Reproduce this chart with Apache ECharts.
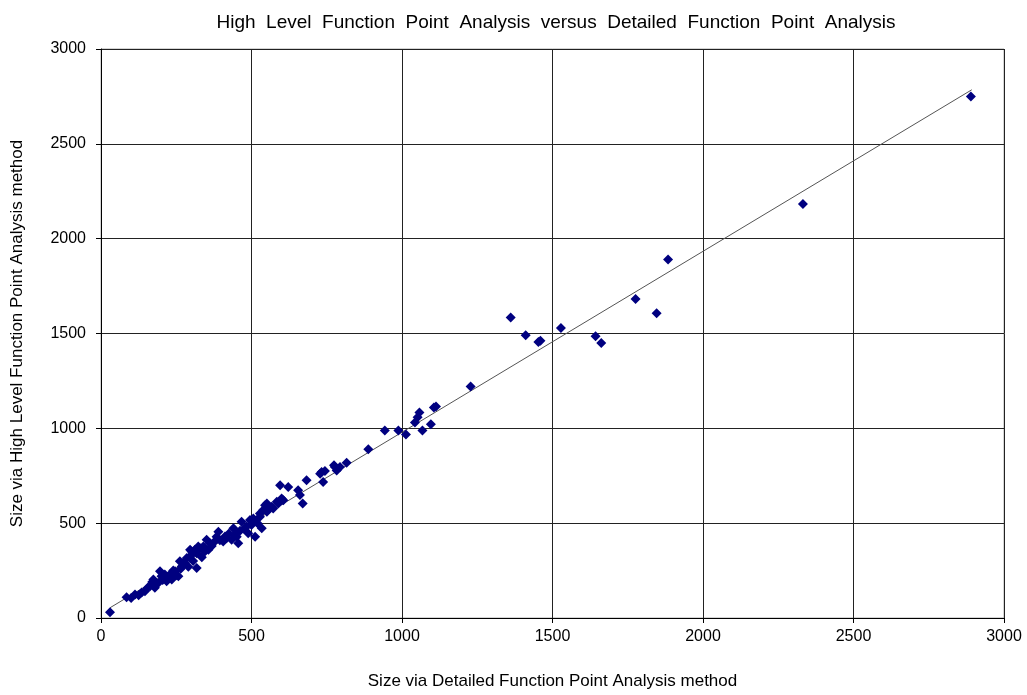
<!DOCTYPE html>
<html>
<head>
<meta charset="utf-8">
<script src="https://cdn.jsdelivr.net/npm/echarts@6/dist/echarts.min.js"></script>
<style>
html,body{margin:0;padding:0;background:#fff;}
#main{width:1027px;height:695px;}
</style>
</head>
<body>
<div id="main"></div>
<script>
// Detailed FPA size (x) vs High Level FPA size (y)
const detailedSize = [30,85,100,113,125,135,146,155,163,170,174,179,185,190,196,201,205,212,218,222,229,235,240,246,250,257,262,265,268,273,279,285,290,296,301,301,306,312,318,318,323,329,335,340,345,351,357,362,368,375,384,390,395,406,412,417,425,434,440,445,451,456,462,467,475,484,489,495,500,506,512,520,528,528,534,539,545,551,551,557,567,572,584,589,595,600,600,606,622,655,661,670,683,728,733,738,744,777,774,783,794,816,888,943,988,1013,1043,1052,1058,1068,1096,1106,1113,1228,1361,1411,1453,1460,1528,1643,1662,1776,1846,1884,2332,2890];
const highLevelSize = [30,110,106,124,120,135,141,160,168,190,203,159,180,185,246,220,200,230,194,215,229,203,250,246,225,220,299,260,272,290,290,316,270,360,333,351,300,360,263,342,377,368,320,377,350,412,360,394,380,400,429,455,410,403,430,420,445,412,473,440,429,394,460,508,470,482,447,517,490,525,429,500,534,551,473,569,595,560,604,575,586,577,613,604,700,630,621,621,691,674,648,604,726,761,770,717,775,796,805,778,796,818,890,988,988,967,1031,1058,1084,988,1022,1110,1115,1221,1585,1491,1455,1462,1529,1485,1450,1682,1607,1890,2183,2749];
// Linear trend line end points
const trendX = [30, 2893];
const trendY = [54, 2785];
const xTicks = [0,500,1000,1500,2000,2500,3000];
const yTicks = [0,500,1000,1500,2000,2500,3000];

const chart = echarts.init(document.getElementById('main'), null, {renderer:'canvas'});
const points = detailedSize.map((x,i)=>[x, highLevelSize[i]]);
const trend = trendX.map((x,i)=>[x, trendY[i]]);
const font = 'Liberation Sans, Arial, sans-serif';

chart.setOption({
  animation:false,
  backgroundColor:'#fff',
  title:{
    text:'High  Level  Function  Point  Analysis  versus  Detailed  Function  Point  Analysis',
    left:551, top:8, textAlign:'center',
    textStyle:{fontFamily:font, fontSize:19, fontWeight:'normal', color:'#000'}
  },
  grid:{left:101, right:23, top:49, bottom:73, show:true, borderColor:'#aaa', borderWidth:1},
  xAxis:{
    type:'value', min:0, max:3000, interval:500,
    name:'Size via Detailed Function Point Analysis method',
    nameLocation:'middle', nameGap:55,
    nameTextStyle:{fontFamily:font, fontSize:17, color:'#000'},
    axisLine:{show:true, onZero:false, lineStyle:{color:'#000', width:1}},
    axisTick:{show:true, length:5, lineStyle:{color:'#000'}},
    axisLabel:{fontFamily:font, fontSize:16, color:'#000', margin:11,
      formatter:v=>xTicks.includes(v)?String(v):''},
    splitLine:{show:true, lineStyle:{color:'#222', width:1}}
  },
  yAxis:{
    type:'value', min:0, max:3000, interval:500,
    name:'Size via High Level Function Point Analysis method',
    nameLocation:'middle', nameGap:75, nameRotate:90,
    nameTextStyle:{fontFamily:font, fontSize:17, color:'#000'},
    axisLine:{show:true, onZero:false, lineStyle:{color:'#000', width:1}},
    axisTick:{show:true, length:5, lineStyle:{color:'#000'}},
    axisLabel:{fontFamily:font, fontSize:16, color:'#000', margin:15,
      formatter:v=>yTicks.includes(v)?String(v):''},
    splitLine:{show:true, lineStyle:{color:'#222', width:1}}
  },
  series:[
    {
      type:'line', data:trend, symbol:'none', silent:true,
      lineStyle:{color:'#555', width:1}, z:3
    },
    {
      type:'scatter', data:points, symbol:'diamond', symbolSize:10,
      itemStyle:{color:'#000080', opacity:1}, z:4
    }
  ]
});
</script>
</body>
</html>
